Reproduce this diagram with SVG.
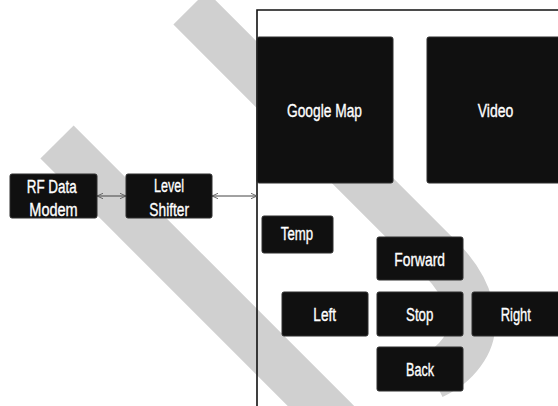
<svg xmlns="http://www.w3.org/2000/svg" width="558" height="406" viewBox="0 0 558 406">
  <style>
    .wm { fill: none; stroke: #d0d0d0; stroke-width: 47; stroke-linecap: butt; stroke-linejoin: round; }
    .box { fill: #101010; stroke: #2e2e2e; stroke-width: 1; }
    .lbl { font-family: "Liberation Sans", Arial, sans-serif; font-size: 18px; fill: #ffffff; stroke: #ffffff; stroke-width: 0.35; text-anchor: middle; }
    .conn { stroke: #444444; stroke-width: 1; fill: none; }
    .frame { stroke: #111111; stroke-width: 1.6; fill: none; }
  </style>
  <defs>
    <marker id="arr" viewBox="0 0 10 10" refX="10" refY="5" markerWidth="6" markerHeight="7" markerUnits="userSpaceOnUse" orient="auto-start-reverse">
      <path d="M0,0.5 L10,5 L0,9.5" fill="none" stroke="#555555" stroke-width="1.4"/>
    </marker>
  </defs>

  <rect width="558" height="406" fill="#ffffff"/>

  <g id="watermark">
    <path class="wm" d="M190,8 L440,258 C470,288 482,325 462,352 C454,363 446,369 432,376"/>
    <path class="wm" d="M57,142 L345,430"/>
  </g>

  <path id="frame" class="frame" d="M257,410 L257,10 L562,10"/>

  <g id="connectors">
    <line class="conn" x1="97" y1="196" x2="126" y2="196" marker-start="url(#arr)" marker-end="url(#arr)"/>
    <line class="conn" x1="212" y1="196" x2="257" y2="196" marker-start="url(#arr)" marker-end="url(#arr)"/>
  </g>

  <g id="rf-data-modem">
    <rect class="box" x="10" y="174" width="87" height="44" rx="2"/>
    <text class="lbl" x="51.7" y="192.5" textLength="50" lengthAdjust="spacingAndGlyphs">RF Data</text>
    <text class="lbl" x="53.5" y="216" textLength="48.4" lengthAdjust="spacingAndGlyphs">Modem</text>
  </g>

  <g id="level-shifter">
    <rect class="box" x="126" y="174" width="86" height="44" rx="2"/>
    <text class="lbl" x="169" y="192" textLength="30" lengthAdjust="spacingAndGlyphs">Level</text>
    <text class="lbl" x="169.2" y="216" textLength="39.7" lengthAdjust="spacingAndGlyphs">Shifter</text>
  </g>

  <g id="google-map">
    <rect class="box" x="257" y="37" width="136" height="146" rx="2"/>
    <text class="lbl" x="324.5" y="117" textLength="75" lengthAdjust="spacingAndGlyphs">Google Map</text>
  </g>

  <g id="video">
    <rect class="box" x="427" y="37" width="140" height="146" rx="2"/>
    <text class="lbl" x="495.5" y="117" textLength="35.6" lengthAdjust="spacingAndGlyphs">Video</text>
  </g>

  <g id="temp">
    <rect class="box" x="262" y="216" width="71" height="37" rx="2"/>
    <text class="lbl" x="297" y="239.5" textLength="32.3" lengthAdjust="spacingAndGlyphs">Temp</text>
  </g>

  <g id="forward">
    <rect class="box" x="377" y="237" width="86" height="43" rx="2"/>
    <text class="lbl" x="419.7" y="266" textLength="50.7" lengthAdjust="spacingAndGlyphs">Forward</text>
  </g>

  <g id="left">
    <rect class="box" x="282" y="292" width="86" height="44" rx="2"/>
    <text class="lbl" x="324.7" y="320.7" textLength="22.7" lengthAdjust="spacingAndGlyphs">Left</text>
  </g>

  <g id="stop">
    <rect class="box" x="377" y="292" width="86" height="44" rx="2"/>
    <text class="lbl" x="419.7" y="320.7" textLength="27.3" lengthAdjust="spacingAndGlyphs">Stop</text>
  </g>

  <g id="right">
    <rect class="box" x="472" y="292" width="100" height="44" rx="2"/>
    <text class="lbl" x="515.8" y="320.7" textLength="30.3" lengthAdjust="spacingAndGlyphs">Right</text>
  </g>

  <g id="back">
    <rect class="box" x="377" y="347" width="86" height="44" rx="2"/>
    <text class="lbl" x="420" y="376" textLength="28" lengthAdjust="spacingAndGlyphs">Back</text>
  </g>
</svg>
